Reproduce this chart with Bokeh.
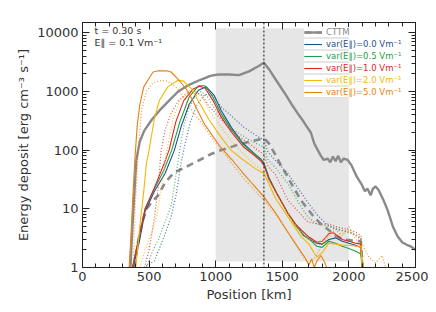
from bokeh.plotting import figure
from bokeh.models import (BoxAnnotation, Span, Label, Legend, LegendItem,
                          LinearAxis, LogAxis, FixedTicker, Range1d)
from bokeh.embed import file_html
from bokeh.resources import INLINE

# ---------------- data ----------------
x_ticks = [0, 500, 1000, 1500, 2000, 2500]
x_tick_labels = ["0", "500", "1000", "1500", "2000", "2500"]
y_ticks = [1, 10, 100, 1000, 10000]
y_tick_labels = ["1", "10", "100", "1000", "10000"]

shade_x = [1000, 2000]
shade_y = [1.26, 12000]
marker_x = 1362

cttm_x = [360, 375, 390, 404, 430, 465, 520, 580, 650, 718, 800, 890, 960, 1018, 1100, 1175,
          1250, 1320, 1362, 1400, 1450, 1490, 1530, 1580, 1617, 1650, 1680, 1714, 1740, 1766,
          1790, 1811, 1840, 1860, 1880, 1900, 1920, 1940, 1960, 1991, 2020, 2060, 2100, 2120,
          2140, 2163, 2180, 2200, 2223, 2260, 2290, 2330, 2365, 2400, 2440, 2463, 2500]
cttm_y = [1, 5, 20, 68, 140, 218, 330, 480, 700, 1000, 1300, 1600, 1850, 1950, 1950, 1900,
          2200, 2700, 3100, 2400, 1600, 1170, 850, 560, 420, 330, 260, 200, 130, 100,
          80, 68, 72, 62, 78, 65, 80, 62, 72, 68, 55, 35, 25, 20,
          22, 17, 22, 24, 21, 14, 9.6, 5, 3.4, 2.7, 2.4, 2.3, 2.0]

cttm_d_x = [390, 420, 450, 480, 520, 568, 620, 690, 720, 800, 890, 960, 1040, 1150, 1250, 1317,
            1362, 1400, 1440, 1490, 1540, 1590, 1640, 1690, 1737, 1790, 1841, 1900, 1960, 2020,
            2090, 2105]
cttm_d_y = [1, 3, 6, 10, 13, 17, 28, 42, 45, 55, 70, 85, 100, 120, 140, 150,
            160, 130, 90, 55, 35, 22, 14, 10, 7.3, 5.5, 4.5, 3.5, 3, 2.9,
            2.8, 0.9]

v00_x = [380, 430, 470, 540, 620, 690, 740, 800, 870, 930, 990, 1040, 1120, 1200, 1280, 1340,
         1362, 1400, 1460, 1540, 1600, 1660, 1720, 1760, 1800, 1850, 1900, 1950, 2000, 2050,
         2090, 2100]
v00_y = [1, 3, 9, 20, 40, 100, 250, 600, 1050, 1200, 850, 480, 240, 135, 92, 70,
         60, 34, 18, 8.5, 5.3, 3.5, 2.9, 2.6, 2.5, 3.0, 3.2, 2.8, 2.6, 2.4,
         2.2, 0.9]
v00d_x = [460, 540, 614, 665, 704, 740, 770, 810, 860, 920, 980, 1040, 1120, 1212, 1300, 1362,
          1390, 1440, 1542, 1620, 1691, 1760, 1830, 1900, 1960, 2030, 2090, 2100]
v00d_y = [1, 1.3, 3.4, 7.3, 18, 60, 130, 300, 600, 900, 850, 550, 380, 245, 180, 148,
          95, 70, 40, 22, 13, 8, 5.5, 4.5, 4.2, 3.8, 3, 0.9]

v05_x = [375, 420, 470, 540, 610, 670, 730, 800, 870, 920, 980, 1040, 1120, 1200, 1280, 1340,
         1362, 1400, 1460, 1540, 1600, 1660, 1720, 1760, 1800, 1850, 1900, 1950, 2000, 2050,
         2090, 2100]
v05_y = [1, 3, 10, 22, 45, 100, 300, 800, 1250, 1250, 800, 420, 220, 130, 90, 68,
         58, 33, 18, 8.5, 5.2, 3.6, 2.8, 2.3, 2.2, 2.8, 2.6, 2.3, 2.1, 1.9,
         1.7, 0.9]
v05d_x = [480, 530, 570, 620, 665, 704, 730, 760, 793, 840, 890, 940, 988, 1060, 1137, 1250,
          1362, 1390, 1450, 1542, 1620, 1691, 1760, 1850, 1920, 2000, 2090, 2100]
v05d_y = [1, 2, 3, 6, 11, 40, 100, 250, 480, 800, 1000, 800, 520, 330, 220, 150,
          112, 70, 50, 27, 13, 7.3, 5.5, 5, 4.5, 4, 3.3, 0.9]

v10_x = [375, 420, 470, 540, 614, 650, 700, 760, 830, 880, 920, 980, 1040, 1120, 1212, 1280,
         1340, 1362, 1400, 1460, 1542, 1600, 1640, 1700, 1760, 1800, 1850, 1886, 1950, 2000,
         2050, 2090, 2100]
v10_y = [1, 3, 10, 23, 60, 100, 300, 700, 1100, 1230, 1150, 700, 370, 200, 112, 85,
         65, 55, 32, 18, 8.5, 5.5, 4.4, 3.3, 2.7, 2.8, 3.8, 3.9, 3.0, 2.8,
         2.6, 2.5, 0.9]
v10d_x = [465, 500, 540, 570, 590, 620, 660, 720, 790, 840, 900, 940, 1000, 1060, 1137, 1230,
          1317, 1362, 1390, 1450, 1542, 1620, 1691, 1770, 1850, 1900, 1980, 2050, 2090, 2100]
v10d_y = [1, 2, 7, 25, 100, 220, 400, 700, 950, 1000, 850, 600, 420, 300, 195, 140,
          100, 85, 55, 38, 14, 9, 6, 5.5, 5.5, 5, 4.5, 4, 3.5, 0.9]

v20_x = [400, 430, 460, 480, 500, 540, 577, 640, 718, 760, 820, 868, 950, 1018, 1115, 1200,
         1300, 1362, 1450, 1542, 1640, 1700, 1737, 1760, 1800, 1850, 1900, 1950, 2000, 2050,
         2090, 2100]
v20_y = [1, 5, 20, 60, 100, 350, 700, 1200, 1550, 1500, 1100, 700, 330, 195, 100, 70,
         48, 40, 15, 7.3, 3.4, 2.5, 1.8, 1.5, 1.8, 2.6, 2.5, 2.4, 2.4, 2.3,
         2.3, 0.9]
v20d_x = [430, 470, 520, 560, 600, 640, 680, 730, 790, 840, 900, 960, 1040, 1120, 1200, 1300,
          1362, 1420, 1500, 1580, 1640, 1700, 1760, 1820, 1880, 1950, 2000, 2060, 2090, 2110]
v20d_y = [1, 2, 4, 8, 30, 120, 350, 700, 1000, 1050, 800, 450, 250, 140, 90, 55,
          42, 25, 12, 6, 4, 3, 2.6, 3.2, 3.5, 3.8, 4, 3.5, 3.2, 0.9]

v50_x = [350, 365, 380, 395, 410, 430, 460, 494, 530, 570, 630, 665, 720, 793, 850, 913,
         980, 1040, 1120, 1200, 1280, 1362, 1450, 1542, 1617, 1660, 1700, 1720, 1740, 1760,
         1790, 1820, 1840]
v50_y = [1, 4, 20, 80, 250, 600, 1200, 1600, 2150, 2250, 2250, 2150, 1600, 1000, 550, 285,
         170, 110, 70, 42, 26, 16, 8.5, 4, 2.2, 1.6, 1.1, 1.4, 1.0, 1.3,
         1.6, 1.2, 0.9]
v50d_x = [380, 395, 410, 425, 445, 480, 530, 590, 640, 700, 760, 830, 900, 988, 1040, 1120,
          1200, 1280, 1362, 1450, 1540, 1600, 1650, 1700, 1750, 1800, 1850, 1900, 1950, 2000,
          2050, 2100, 2150, 2200, 2250, 2280]
v50d_y = [1, 10, 40, 150, 500, 1000, 1400, 1550, 1500, 1200, 800, 450, 280, 140, 105, 60,
          35, 22, 14, 8, 4, 2.5, 1.6, 1.2, 1.5, 2.5, 3.5, 4.5, 3.5, 5,
          3, 2.5, 1.5, 1.2, 1.6, 0.9]

labels = ["CTTM", "var(E\u2225)=0.0 Vm\u207b\u00b9", "var(E\u2225)=0.5 Vm\u207b\u00b9",
          "var(E\u2225)=1.0 Vm\u207b\u00b9", "var(E\u2225)=2.0 Vm\u207b\u00b9",
          "var(E\u2225)=5.0 Vm\u207b\u00b9"]
colors = ["#8a8a8a", "#1f4f8f", "#22a045", "#e02525", "#f2b705", "#ea7f10"]

# ---------------- figure ----------------
FONT = "DejaVu Sans"
TXT = "#333333"

p = figure(width=428, height=304, y_axis_type="log",
           x_range=Range1d(0, 2500), y_range=Range1d(1, 15000),
           output_backend="svg", toolbar_location=None,
           min_border_left=82, min_border_right=13, min_border_top=22, min_border_bottom=36)
p.grid.visible = False
p.outline_line_color = "#222222"
p.outline_line_width = 1

p.add_layout(BoxAnnotation(left=shade_x[0], right=shade_x[1], bottom=shade_y[0], top=shade_y[1],
                           fill_color="#e6e6e6", fill_alpha=1, line_color=None, level="underlay"))

x_minor = list(range(0, 2501, 100))
y_minor = [m * 10 ** k for k in range(0, 5) for m in range(2, 10)]


def style_axis(ax, show):
    ax.major_tick_in = 7
    ax.major_tick_out = 0
    ax.minor_tick_in = 4
    ax.minor_tick_out = 0
    ax.axis_line_color = "#222222"
    ax.major_tick_line_color = "#222222"
    ax.minor_tick_line_color = "#222222"
    ax.major_label_text_font = FONT
    ax.major_label_text_font_size = "13px"
    ax.major_label_text_color = TXT
    if show:
        ax.axis_label_text_font = FONT
        ax.axis_label_text_font_size = "13px"
        ax.axis_label_text_font_style = "normal"
        ax.axis_label_text_color = TXT
        ax.major_label_standoff = 4
        ax.axis_label_standoff = 3
    else:
        ax.major_label_standoff = 0


p.xaxis[0].ticker = FixedTicker(ticks=x_ticks, minor_ticks=x_minor)
p.xaxis[0].major_label_overrides = dict(zip(x_ticks, x_tick_labels))
p.xaxis[0].axis_label = "Position [km]"
style_axis(p.xaxis[0], True)
p.yaxis[0].ticker = FixedTicker(ticks=y_ticks, minor_ticks=y_minor)
p.yaxis[0].major_label_overrides = dict(zip(y_ticks, y_tick_labels))
p.yaxis[0].axis_label = "Energy deposit [erg cm\u207b\u00b3 s\u207b\u00b9]"
style_axis(p.yaxis[0], True)

top_ax = LinearAxis(ticker=FixedTicker(ticks=x_ticks, minor_ticks=x_minor))
top_ax.major_label_overrides = {t: "" for t in x_ticks}
style_axis(top_ax, False)
p.add_layout(top_ax, "above")
right_ax = LogAxis(ticker=FixedTicker(ticks=y_ticks, minor_ticks=y_minor))
right_ax.major_label_overrides = {t: "" for t in y_ticks}
style_axis(right_ax, False)
p.add_layout(right_ax, "right")

# ---------------- curves ----------------
solid_sets = [(cttm_x, cttm_y), (v00_x, v00_y), (v05_x, v05_y), (v10_x, v10_y),
              (v20_x, v20_y), (v50_x, v50_y)]
dot_sets = [(cttm_d_x, cttm_d_y), (v00d_x, v00d_y), (v05d_x, v05d_y), (v10d_x, v10d_y),
            (v20d_x, v20d_y), (v50d_x, v50d_y)]

pairs = []
for i in range(6):
    c = colors[i]
    if i == 0:
        rd = p.line(dot_sets[i][0], dot_sets[i][1], line_color=c, line_width=2.6, line_dash="7 5")
        rs = p.line(solid_sets[i][0], solid_sets[i][1], line_color=c, line_width=2.4)
    else:
        rd = p.line(dot_sets[i][0], dot_sets[i][1], line_color=c, line_width=1.2,
                    line_dash="1 2", line_alpha=0.8)
        rs = p.line(solid_sets[i][0], solid_sets[i][1], line_color=c, line_width=1.1)
    pairs.append((rs, rd))

p.add_layout(Span(location=marker_x, dimension="height", line_color="#111111",
                  line_width=1, line_dash="2 2"))

# ---------------- legend ----------------
for i in range(6):
    leg = Legend(items=[LegendItem(label=labels[i], renderers=list(pairs[i]))],
                 location=(222, 230 - 12 * i), label_text_color=colors[i],
                 label_text_font=FONT, label_text_font_size="8.5px",
                 glyph_width=18, glyph_height=8, label_height=8, label_standoff=4,
                 padding=2, margin=0, spacing=0, border_line_color=None,
                 background_fill_color="white", background_fill_alpha=1)
    p.add_layout(leg)

p.add_layout(Label(x=12, y=237, x_units="screen", y_units="screen", text="t = 0.30 s",
                   text_font=FONT, text_font_size="9.5px", text_color=TXT,
                   text_baseline="middle"))
p.add_layout(Label(x=12, y=225, x_units="screen", y_units="screen",
                   text="E\u2225 = 0.1 Vm\u207b\u00b9",
                   text_font=FONT, text_font_size="9.5px", text_color=TXT,
                   text_baseline="middle"))

open("out.html", "w").write(file_html(p, INLINE))
